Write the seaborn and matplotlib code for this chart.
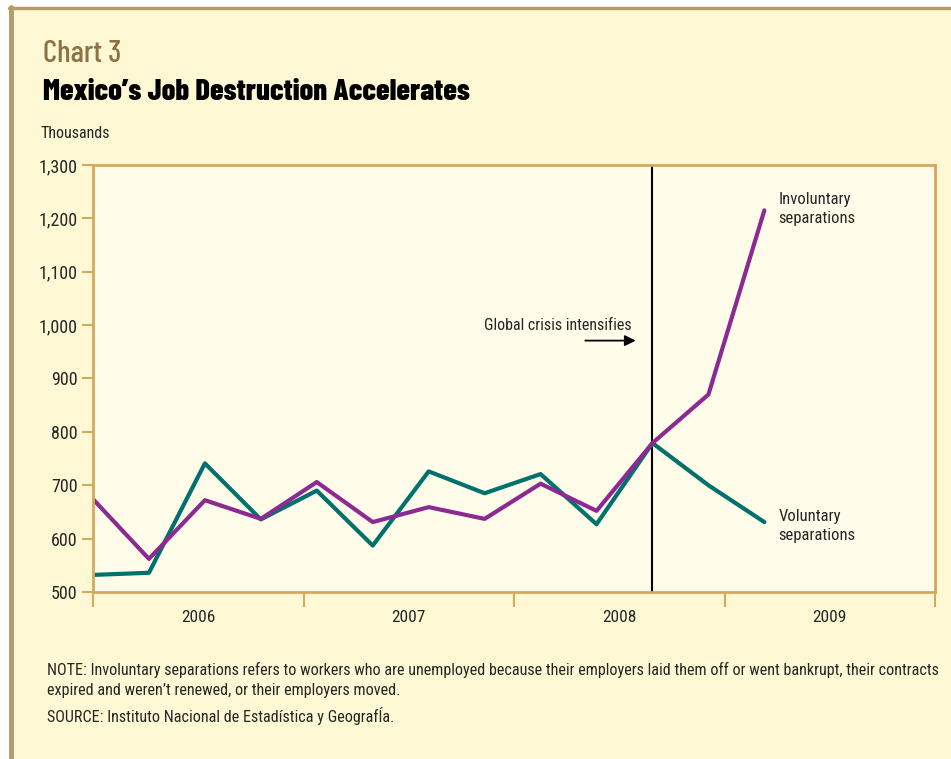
import matplotlib as mpl
mpl.use("Agg")
import matplotlib.pyplot as plt
import seaborn as sns
import pandas as pd

# data (thousands of workers)
periods = list(range(13))
voluntary = [532, 536, 741, 636, 690, 587, 726, 685, 721, 627, 779, 700, 631]
involuntary = [674, 562, 672, 637, 706, 631, 659, 637, 703, 652, 779, 870, 1215]
year_labels = ["2006", "2007", "2008", "2009"]
year_edges = [0, 3.7625, 7.525, 11.2875, 15.05]
crisis_period = 10
y_ticks = [500, 600, 700, 800, 900, 1000, 1100, 1200, 1300]

GREEN = "#00716c"
PURPLE = "#8c2a92"
TAN = "#d4a85e"
FIG_BG = "#fef9d4"
AX_BG = "#fffde9"

BODY = ["Roboto Condensed", "Archivo Narrow", "Liberation Sans Narrow", "DejaVu Sans"]
HEAD = ["Barlow Condensed", "Roboto Condensed", "Liberation Sans Narrow", "DejaVu Sans"]

sns.set_style("white")
plt.rcParams["font.family"] = BODY

df = pd.DataFrame({
    "period": periods * 2,
    "value": voluntary + involuntary,
    "series": ["Voluntary"] * 13 + ["Involuntary"] * 13,
})

fig = plt.figure(figsize=(9.51, 7.59), dpi=100, facecolor=FIG_BG)
ax = fig.add_axes([93 / 951, 1 - 592 / 759, (935 - 93) / 951, (592 - 165) / 759])
ax.set_facecolor(AX_BG)

sns.lineplot(data=df, x="period", y="value", hue="series",
             palette={"Voluntary": GREEN, "Involuntary": PURPLE},
             linewidth=3, legend=False, ax=ax)

ax.axvline(crisis_period, color="black", lw=1.5, zorder=1)

ax.set_xlim(year_edges[0], year_edges[-1])
ax.set_ylim(500, 1300)
ax.set_yticks(y_ticks)
ax.set_yticklabels([f"{v:,}" for v in y_ticks])
ax.set_xticks(year_edges)
ax.set_xticklabels([])
ax.set_xticks([(a + b) / 2 for a, b in zip(year_edges[:-1], year_edges[1:])], minor=True)
ax.set_xticklabels(year_labels, minor=True)
ax.tick_params(axis="x", which="major", bottom=True, direction="out", length=11,
               width=1.5, color=TAN)
ax.tick_params(axis="x", which="minor", bottom=True, length=0, pad=13, labelsize=12.5)
ax.tick_params(axis="y", left=True, direction="out", length=8, width=1.5, color=TAN,
               labelsize=13, pad=3)
ax.set_xlabel("")
ax.set_ylabel("")
for s in ax.spines.values():
    s.set_color(TAN)
    s.set_linewidth(2)

# annotations
ax.text(9.62, 1000, "Global crisis intensifies", ha="right", va="center", fontsize=11.5)
ax.annotate("", xy=(9.75, 971), xytext=(8.75, 971),
            arrowprops=dict(arrowstyle="-|>", color="black", lw=1.3, mutation_scale=16))
ax.text(12.25, 1218, "Involuntary\nseparations", ha="left", va="center", fontsize=12,
        linespacing=1.3)
ax.text(12.25, 624, "Voluntary\nseparations", ha="left", va="center", fontsize=12,
        linespacing=1.3)

# headings and notes
fig.text(43 / 951, 1 - 54 / 759, "Chart 3", fontsize=22.5, color="#8c7244",
         ha="left", va="center", family=HEAD, fontweight="medium")
fig.text(43 / 951, 1 - 92 / 759, "Mexico\u2019s Job Destruction Accelerates", fontsize=22,
         fontweight=800, ha="left", va="center", family=HEAD, color="black")
fig.text(40 / 951, 1 - 133 / 759, "Thousands", fontsize=11.5, ha="left", va="center")
fig.text(47 / 951, 1 - 680 / 759,
         "NOTE: Involuntary separations refers to workers who are unemployed because their "
         "employers laid them off or went bankrupt, their contracts\n"
         "expired and weren\u2019t renewed, or their employers moved.",
         fontsize=11.6, ha="left", va="center", linespacing=1.45)
fig.text(47 / 951, 1 - 716 / 759, "SOURCE: Instituto Nacional de Estad\u00edstica y Geograf\u00cda.",
         fontsize=11.6, ha="left", va="center")

# frame lines of the figure
fig.patches.append(plt.Rectangle((0, 1 - 7 / 759), 1, 7 / 759, transform=fig.transFigure,
                                 color="white", zorder=0))
fig.patches.append(plt.Rectangle((0, 0), 10 / 951, 1, transform=fig.transFigure,
                                 color="white", zorder=0))
fig.add_artist(plt.Line2D([11 / 951, 11 / 951], [0, 1 - 7 / 759], transform=fig.transFigure,
                          color="#b59b6b", lw=3.5))
fig.add_artist(plt.Line2D([9 / 951, 1], [1 - 8 / 759, 1 - 8 / 759], transform=fig.transFigure,
                          color="#b59b6b", lw=2.5))

fig.savefig("out.png", dpi=100, facecolor=FIG_BG)
